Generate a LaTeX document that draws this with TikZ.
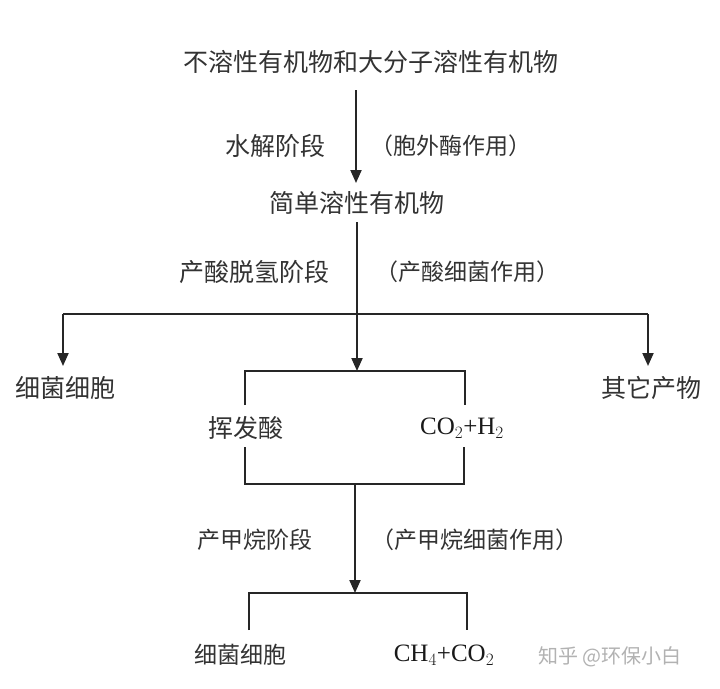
\documentclass[tikz,border=0pt]{standalone}
\usepackage{fontspec}
\setmainfont{Liberation Serif}
\newfontfamily\cjk{Noto Sans CJK SC}
\usetikzlibrary{arrows.meta}
\begin{document}
\begin{tikzpicture}[x=1pt,y=-1pt,
  lbl/.style={font=\cjk\fontsize{25}{28}\selectfont, text=black!80, inner sep=0pt},
  lbls/.style={font=\cjk\fontsize{23}{26}\selectfont, text=black!80, inner sep=0pt},
  chem/.style={font=\fontsize{25}{28}\selectfont, text=black!90, inner sep=0pt},
  wmark/.style={font=\cjk\fontsize{20}{24}\selectfont, text=black!30, inner sep=0pt},
  ln/.style={draw=black!85, line width=2pt},
  arr/.style={ln, -{Triangle[width=11pt,length=13pt]}},
]
\fill[white] (0,0) rectangle (720,688);
\useasboundingbox (0,0) rectangle (720,688);

% texts
\node[lbl] (top) at (371,62) {不溶性有机物和大分子溶性有机物};
\node[lbl] (hyd) at (275,146) {水解阶段};
\node[lbls] (hydr) at (451,146) {（胞外酶作用）};
\node[lbl] (simple) at (357,203) {简单溶性有机物};
\node[lbl] (acid) at (254,272) {产酸脱氢阶段};
\node[lbls] (acidr) at (467,272) {（产酸细菌作用）};
\node[lbl] (cellA) at (65,388) {细菌细胞};
\node[lbl] (other) at (651,388) {其它产物};
\node[lbl] (vfa) at (246,428) {挥发酸};
\node[chem] (coh) at (462,428) {CO$_2$+H$_2$};
\node[lbls] (meth) at (255,540) {产甲烷阶段};
\node[lbls] (methr) at (475,540) {（产甲烷细菌作用）};
\node[lbls] (cellB) at (240,655) {细菌细胞};
\node[chem] (ch4) at (444,655) {CH$_4$+CO$_2$};
\node[wmark] (wm) at (610,657) {知乎 @环保小白};

% junction coordinates
\coordinate (a1s) at (356,90);
\coordinate (a1e) at (356,183);
\coordinate (a2s) at (357,222);
\coordinate (a2e) at (357,371);
\coordinate (hL) at (63,314);
\coordinate (hR) at (648,314);
\coordinate (hLe) at (63,366);
\coordinate (hRe) at (648,366);
\coordinate (uL) at (245,371);
\coordinate (uR) at (465,371);
\coordinate (uLb) at (245,405);
\coordinate (uRb) at (465,405);
\coordinate (lLt) at (245,447);
\coordinate (lRt) at (464,447);
\coordinate (lL) at (245,484);
\coordinate (lR) at (464,484);
\coordinate (a3s) at (355,484);
\coordinate (a3e) at (355,593);
\coordinate (bL) at (249,593);
\coordinate (bR) at (467,593);
\coordinate (bLb) at (249,630);
\coordinate (bRb) at (467,630);

% connectors
\draw[arr] (a1s) -- (a1e);
\draw[arr] (a2s) -- (a2e);
\draw[ln] (hL) -- (hR);
\draw[arr] (hL) -- (hLe);
\draw[arr] (hR) -- (hRe);
\draw[ln] (uLb) -- (uL) -- (uR) -- (uRb);
\draw[ln] (lLt) -- (lL) -- (lR) -- (lRt);
\draw[arr] (a3s) -- (a3e);
\draw[ln] (bLb) -- (bL) -- (bR) -- (bRb);
\end{tikzpicture}
\end{document}
